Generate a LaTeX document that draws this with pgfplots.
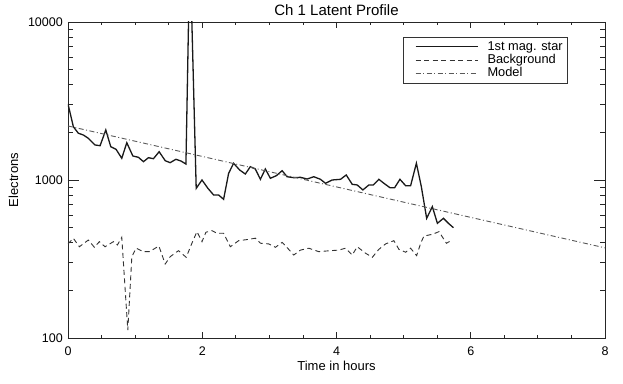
\documentclass[border=0pt]{standalone}
\usepackage{pgfplots}
\pgfplotsset{compat=1.18}
\usepackage{fontspec}
\setmainfont{Liberation Sans}
\begin{document}
\begin{tikzpicture}
\path[use as bounding box] (-68bp,-46bp) rectangle (555bp,338bp);
\begin{axis}[
  at={(0,0)}, anchor=south west,
  scale only axis, width=537bp, height=316bp,
  ymode=log, xmin=0, xmax=8, ymin=100, ymax=10000,
  xtick={0,2,4,6,8}, minor x tick num=3,
  ytick={100,1000,10000}, yticklabels={100,1000,10000},
  tick align=inside,
  /pgf/number format/assume math mode=true,
  axis line style={line width=0.9bp, color=black!85},
  every tick/.style={line width=0.8bp, color=black!85},
  xtick style={/pgfplots/major tick length=6.3bp,/pgfplots/minor tick length=3.2bp},
  ytick style={/pgfplots/major tick length=10.7bp,/pgfplots/minor tick length=5.3bp},
  ticklabel style={font=\fontsize{12.5bp}{14bp}\selectfont},
  xticklabel style={anchor=base, inner sep=0pt, yshift=-17.5bp},
  yticklabel style={anchor=east, inner sep=0pt, xshift=-5bp},
  xlabel={Time in hours}, ylabel={Electrons},
  label style={font=\fontsize{13bp}{15bp}\selectfont},
  xlabel style={at={(axis description cs:0.5,-0.103)}, anchor=base, inner sep=0pt},
  ylabel style={at={(axis description cs:-0.0931,0.5)}, anchor=base, rotate=0, inner sep=0pt},
  title={Ch 1 Latent Profile},
  title style={font=\fontsize{15bp}{17bp}\selectfont, at={(axis description cs:0.5,1)}, anchor=base, yshift=0.5bp, inner sep=0pt},
  legend style={at={(axis description cs:0.623,0.953)}, anchor=north west,
    draw=black!80, line width=0.8bp, inner xsep=4bp, inner ysep=3bp,
    font=\fontsize{12.8bp}{13.5bp}\selectfont,
    nodes={text height=9.5bp, text depth=2.8bp, inner sep=0.5bp},
    column sep=9bp},
  legend cell align=left,
  legend image code/.code={\path (0bp,0bp); \draw[#1, line width=0.8bp] (8bp,0bp) -- (70bp,0bp);},
]
\addplot[line width=1.3bp, color=black!90] coordinates {
(0,3030) (0.080,2173) (0.154,1977) (0.228,1927) (0.303,1836) (0.403,1666)
(0.478,1648) (0.563,2073) (0.637,1625) (0.716,1564) (0.801,1372) (0.876,1722)
(0.966,1419) (1.049,1392) (1.124,1306) (1.199,1384) (1.273,1364) (1.358,1510)
(1.448,1325) (1.522,1287) (1.607,1352) (1.682,1319) (1.757,1262) (1.816,30000)
(1.910,885) (1.996,1000) (2.085,885) (2.169,804) (2.243,804) (2.318,755)
(2.393,1102) (2.467,1276) (2.557,1157) (2.642,1091) (2.716,1214) (2.791,1174)
(2.866,1010) (2.940,1174) (3.015,1025) (3.104,1065) (3.190,1145) (3.264,1049)
(3.363,1034) (3.463,1040) (3.563,1014) (3.661,1049) (3.761,1010) (3.836,953)
(3.936,1000) (4.060,1010) (4.145,1076) (4.234,939) (4.309,930) (4.393,865)
(4.482,930) (4.548,930) (4.631,1010) (4.706,953) (4.796,894) (4.866,894)
(4.945,1010) (5.030,920) (5.104,920) (5.190,1276) (5.264,907) (5.343,572)
(5.428,678) (5.503,532) (5.593,572) (5.667,532) (5.742,499)
};
\addlegendentry{1st mag. star}
\addplot[line width=0.9bp, color=black!80, dash pattern=on 5bp off 3.5bp] coordinates {
(0,394) (0.079,428) (0.169,378) (0.303,417) (0.393,375) (0.467,407)
(0.552,378) (0.676,407) (0.736,388) (0.801,434) (0.891,112) (0.951,327)
(1.015,370) (1.124,352) (1.213,352) (1.354,382) (1.448,294) (1.522,327)
(1.646,357) (1.761,324) (1.846,398) (1.921,471) (1.996,407) (2.055,467)
(2.145,478) (2.219,460) (2.318,460) (2.418,378) (2.542,413) (2.691,421)
(2.791,428) (2.866,398) (2.990,394) (3.090,375) (3.190,403) (3.288,364)
(3.363,335) (3.463,360) (3.587,370) (3.736,352) (3.910,357) (4.034,360)
(4.134,370) (4.234,335) (4.309,378) (4.433,344) (4.533,324) (4.631,364)
(4.731,394) (4.855,413) (4.930,364) (5.030,349) (5.104,370) (5.194,332)
(5.254,398) (5.303,442) (5.428,453) (5.527,471) (5.637,398) (5.727,417)
};
\addlegendentry{Background}
\addplot[line width=0.9bp, color=black!65, dash pattern=on 5bp off 2.5bp on 1bp off 2.5bp] coordinates {
(0,2198) (8,372)
};
\addlegendentry{Model}
\end{axis}
\end{tikzpicture}
\end{document}
